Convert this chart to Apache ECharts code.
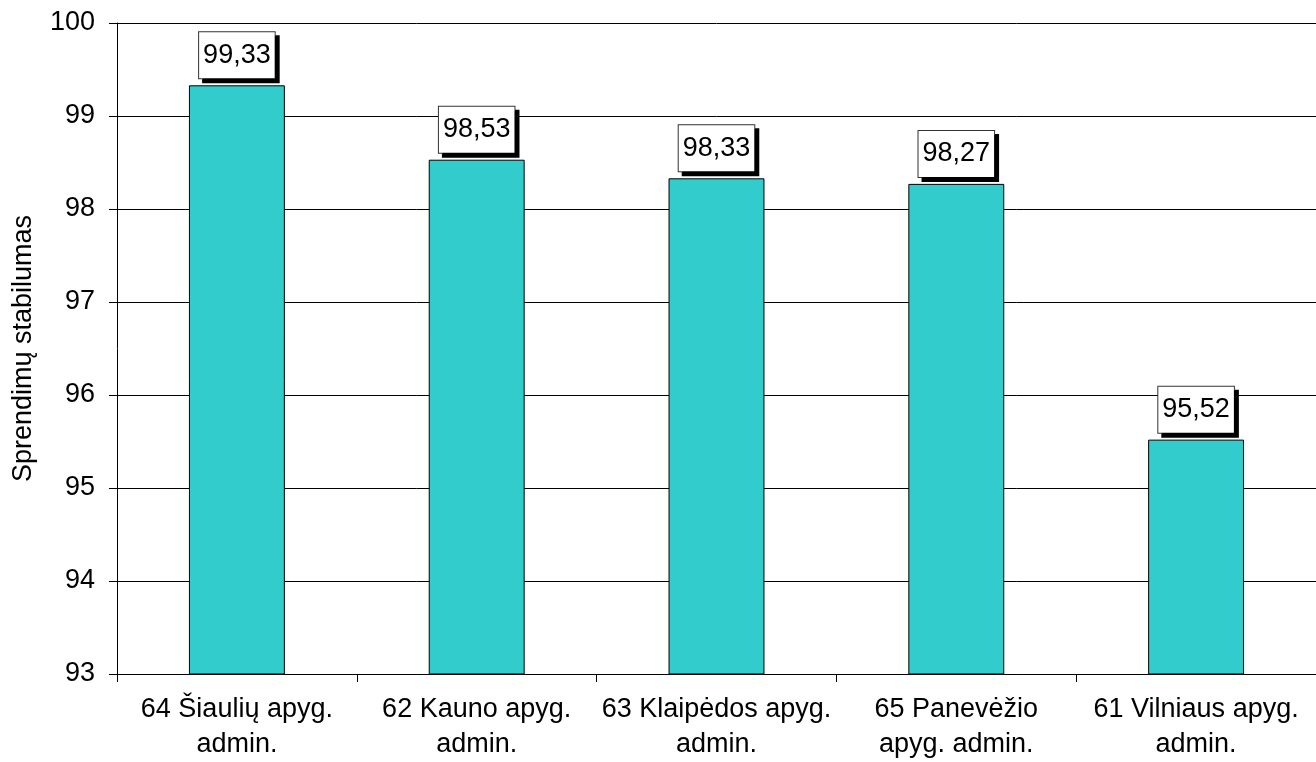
<!DOCTYPE html>
<html>
<head>
<meta charset="utf-8">
<script src="https://cdn.jsdelivr.net/npm/echarts@6/dist/echarts.min.js"></script>
<style>
html,body{margin:0;padding:0;background:#fff;}
#chart{width:1316px;height:762px;}
</style>
</head>
<body>
<div id="chart"></div>
<script>
const categories = [
  "64 Šiaulių apyg.\nadmin.",
  "62 Kauno apyg.\nadmin.",
  "63 Klaipėdos apyg.\nadmin.",
  "65 Panevėžio\napyg. admin.",
  "61 Vilniaus apyg.\nadmin."
];
const values = [99.33, 98.53, 98.33, 98.27, 95.52];
const yAxisName = "Sprendimų stabilumas";
const yMin = 93, yMax = 100, yInterval = 1;

const FONT = "'Liberation Sans', Arial, sans-serif";
const chart = echarts.init(document.getElementById('chart'));
chart.setOption({
  animation: false,
  grid: {left: 117, right: 0, top: 23, bottom: 88, containLabel: false, outerBoundsMode: 'none'},
  xAxis: {
    type: 'category',
    data: categories,
    axisLine: {lineStyle: {color: '#000', width: 1}},
    axisTick: {show: true, length: 8, alignWithLabel: false, lineStyle: {color: '#000'}},
    axisLabel: {color: '#000', fontFamily: FONT, fontSize: 27, lineHeight: 35, margin: 18, interval: 0}
  },
  yAxis: {
    type: 'value',
    min: yMin, max: yMax, interval: yInterval,
    name: yAxisName,
    nameLocation: 'middle',
    nameGap: 80,
    nameRotate: 90,
    nameTextStyle: {color: '#000', fontFamily: FONT, fontSize: 27},
    axisLine: {show: true, lineStyle: {color: '#000', width: 1}},
    axisTick: {show: true, length: 8, lineStyle: {color: '#000'}},
    axisLabel: {color: '#000', fontFamily: FONT, fontSize: 27, margin: 22},
    splitLine: {show: true, lineStyle: {color: '#000', width: 1}}
  },
  series: [{
    type: 'bar',
    data: values,
    barWidth: '40%',
    itemStyle: {color: '#33CCCC', borderColor: '#000', borderWidth: 1},
    label: {
      show: true,
      position: 'top',
      distance: 7,
      formatter: p => p.value.toFixed(2).replace('.', ','),
      color: '#000',
      fontFamily: FONT,
      fontSize: 27,
      lineHeight: 30,
      backgroundColor: '#fff',
      borderColor: '#333',
      borderWidth: 1,
      padding: [8, 4, 8, 4],
      shadowColor: '#000',
      shadowBlur: 0,
      shadowOffsetX: 4,
      shadowOffsetY: 4
    }
  }]
});
</script>
</body>
</html>
